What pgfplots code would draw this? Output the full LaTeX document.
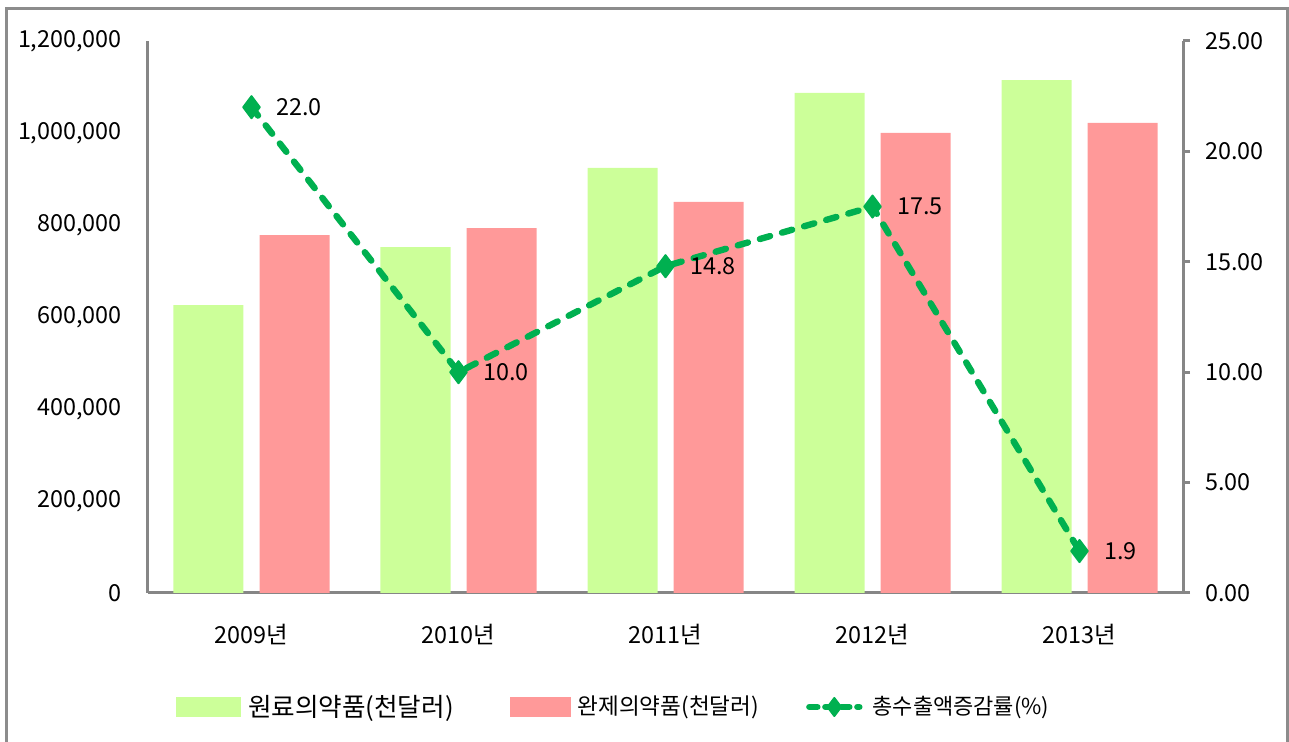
\documentclass[border=0pt]{standalone}
\usepackage{pgfplots}
\pgfplotsset{compat=1.18}
\usepackage{fontspec}
\setmainfont{Noto Sans CJK KR}
\definecolor{barG}{RGB}{204,255,153}
\definecolor{barP}{RGB}{255,153,153}
\definecolor{lineG}{RGB}{0,176,80}
\definecolor{axG}{RGB}{134,134,134}
\definecolor{frameG}{RGB}{140,140,140}
\pgfplotstableread{
x raw finished
0 626000 778000
1 752000 793000
2 924000 850000
3 1087000 1000000
4 1115000 1022000
}\bardata
\pgfplotstableread{
x rate
0 22.0
1 10.0
2 14.8
3 17.5
4 1.9
}\ratedata
\begin{document}
\begin{tikzpicture}[x=1pt,y=1pt]
\useasboundingbox (0,0) rectangle (644.5,371);
\draw[frameG, line width=1.5pt] (3.25,-5) -- (3.25,366.5) -- (643.5,366.5) -- (643.5,-5);
\pgfplotsset{
  base/.style={
    at={(74pt,74.5pt)}, anchor=south west,
    width=517.5pt, height=276pt, scale only axis,
    xmin=-0.5, xmax=4.5,
    /pgf/number format/assume math mode=true,
    tick label style={font=\fontsize{11.7}{13}\selectfont, text=black},
    axis line style={axG, line width=1.5pt, -},
  }
}
\begin{axis}[base,
  ymin=0, ymax=1200000, ytick={0,200000,400000,600000,800000,1000000,1200000},
  scaled y ticks=false,
  yticklabel style={xshift=-9.5pt, /pgf/number format/.cd, fixed, 1000 sep={,}},
  axis x line*=bottom, axis y line*=left,
  xtick={0,1,2,3,4},
  xticklabels={2009년,2010년,2011년,2012년,2013년},
  xticklabel style={yshift=-12pt},
  major tick length=0pt, tick style={draw=none},
]
\addplot[ybar, bar width=35pt, bar shift=-21.5pt, fill=barG, draw=none] table[x=x, y=raw] {\bardata};
\addplot[ybar, bar width=35pt, bar shift=21.5pt, fill=barP, draw=none] table[x=x, y=finished] {\bardata};
\end{axis}
\begin{axis}[base,
  ymin=0, ymax=25, ytick={0,5,10,15,20,25},
  yticklabel style={xshift=4pt, /pgf/number format/.cd, fixed, fixed zerofill, precision=2},
  axis y line*=right, axis x line=none,
  tick align=outside, major tick length=3.5pt,
  ytick style={axG, line width=1.5pt},
  legend columns=3,
  legend style={at={(0.451,-0.2065)}, anchor=center, draw=none, fill=none,
    font=\fontsize{12.8}{14}\selectfont,
    /tikz/column 2/.style={column sep=26pt},
    /tikz/column 4/.style={column sep=20pt}},
]
\addlegendimage{legend image code/.code={\fill[barG] (0pt,-4.75pt) rectangle (32pt,4.75pt); \path (33.5pt,0pt);}}
\addlegendentry{원료의약품(천달러)}
\addlegendimage{legend image code/.code={\fill[barP] (0pt,-4.75pt) rectangle (30pt,4.75pt); \path (31.5pt,0pt);}}
\addlegendentry{\fontsize{11.3}{14}\selectfont 완제의약품(천달러)}
\addplot[lineG, line width=3.2pt, dash pattern=on 5.3pt off 6.2pt, line cap=round,
  mark=diamond*, mark size=5.5pt, mark options={solid, line join=round, line width=1pt},
  nodes near coords={\pgfmathprintnumber[fixed, fixed zerofill, precision=1]{\pgfplotspointmeta}},
  nodes near coords style={text=black, anchor=west, xshift=8.5pt, font=\fontsize{11.7}{13}\selectfont},
  point meta=explicit,
  legend image code/.code={\draw[lineG, line width=3.2pt, dash pattern=on 4pt off 4pt, line cap=round, mark=diamond*, mark options={solid, line join=round, line width=1pt}, mark repeat=2, mark phase=2, mark size=4.5pt] plot coordinates {(1.5pt,0pt) (14pt,0pt) (26.5pt,0pt)}; \path (0pt,0pt) (29.5pt,0pt);},
] table[x=x, y=rate, meta=rate] {\ratedata};
\addlegendentry{\fontsize{11}{14}\selectfont 총수출액증감률(\%)}
\end{axis}
\end{tikzpicture}
\end{document}
